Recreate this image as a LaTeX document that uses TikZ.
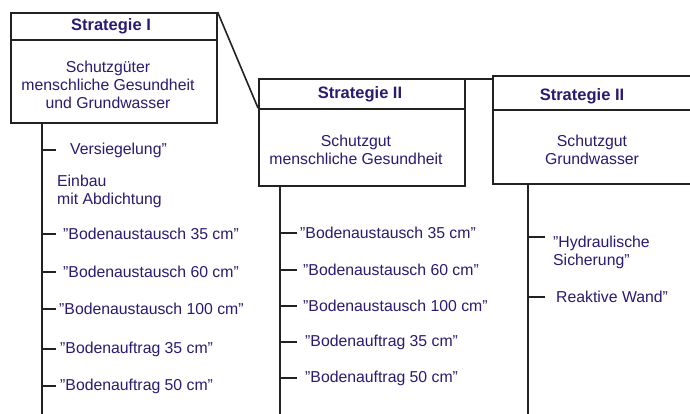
\documentclass[tikz,border=0pt]{standalone}
\usepackage{fontspec}
\setmainfont{Liberation Sans}
\definecolor{txt}{HTML}{2B1A72}
\definecolor{ln}{HTML}{222222}
\begin{document}
\begin{tikzpicture}[x=1pt,y=-1pt,
  every node/.style={text=txt,font=\fontsize{15.8}{18}\selectfont},
  frame/.style={draw=ln,line width=1.6pt,inner sep=0pt,anchor=north west},
  ttl/.style={font=\fontsize{16.5}{18}\selectfont\bfseries},
  item/.style={anchor=west,inner sep=0pt,align=left},
  wire/.style={draw=ln,line width=1.6pt}]
\useasboundingbox (0,0) rectangle (690,414);
\clip (0,0) rectangle (690,414);
\fill[white] (0,0) rectangle (690,414);
% Box I
\node[frame,minimum width=206pt,minimum height=27pt] (t1) at (10,12) {};
\node[frame,minimum width=206pt,minimum height=83pt] (b1) at (10,39) {};
\node[ttl] (tt1) at (111,26) {Strategie I};
\node[align=center] (bt1) at (108,85) {Schutzgüter\\menschliche Gesundheit\\und Grundwasser};
% Box II
\node[frame,minimum width=206pt,minimum height=30pt] (t2) at (258,78) {};
\node[frame,minimum width=206pt,minimum height=77pt] (b2) at (258,108) {};
\node[ttl] (tt2) at (360,94) {Strategie II};
\node[align=center] (bt2) at (356,150) {Schutzgut\\menschliche Gesundheit};
% Box III
\node[frame,minimum width=212pt,minimum height=34pt] (t3) at (492,75) {};
\node[frame,minimum width=212pt,minimum height=74pt] (b3) at (492,109) {};
\node[ttl] (tt3) at (582,96) {Strategie II};
\node[align=center] (bt3) at (592,150) {Schutzgut\\Grundwasser};
% links between boxes
\draw[wire] (t1.north east) -- (b2.north west);
\draw[wire] ([yshift=-1pt]t2.north east) -- ([yshift=-1pt]t2.north east -| t3.west);
% spines
\coordinate (s1) at (42,414);
\coordinate (s2) at (280,414);
\coordinate (s3) at (528,414);
\draw[wire] (s1 |- b1.south) -- (s1);
\draw[wire] (s2 |- b2.south) -- (s2);
\draw[wire] (s3 |- b3.south) -- (s3);
% left items
\node[item] (l1) at (70,150) {Versiegelung"};
\node[item] (l0) at (57,191) {Einbau\\mit Abdichtung};
\node[item] (l2) at (63,234) {"Bodenaustausch 35 cm"};
\node[item] (l3) at (63,272) {"Bodenaustausch 60 cm"};
\node[item] (l4) at (59,309) {"Bodenaustausch 100 cm"};
\node[item] (l5) at (60,349) {"Bodenauftrag 35 cm"};
\node[item] (l6) at (60,386) {"Bodenauftrag 50 cm"};
\foreach \n in {l1,l2,l3,l4,l5,l6}
  \draw[wire] (s1 |- \n.west) -- ++(14,0);
% middle items
\node[item] (m1) at (300,233) {"Bodenaustausch 35 cm"};
\node[item] (m2) at (303,270) {"Bodenaustausch 60 cm"};
\node[item] (m3) at (303,306) {"Bodenaustausch 100 cm"};
\node[item] (m4) at (305,342) {"Bodenauftrag 35 cm"};
\node[item] (m5) at (305,378) {"Bodenauftrag 50 cm"};
\foreach \n in {m1,m2,m3,m4,m5}
  \draw[wire] (s2 |- \n.west) -- ++(17,0);
% right items
\node[item] (r1) at (553,252) {"Hydraulische\\ Sicherung"};
\node[item] (r2) at (556,297) {Reaktive Wand"};
\draw[wire] (s3 |- 0,237) coordinate (r1t) -- ++(17,0);
\draw[wire] (s3 |- r2.west) -- ++(17,0);
\end{tikzpicture}
\end{document}
